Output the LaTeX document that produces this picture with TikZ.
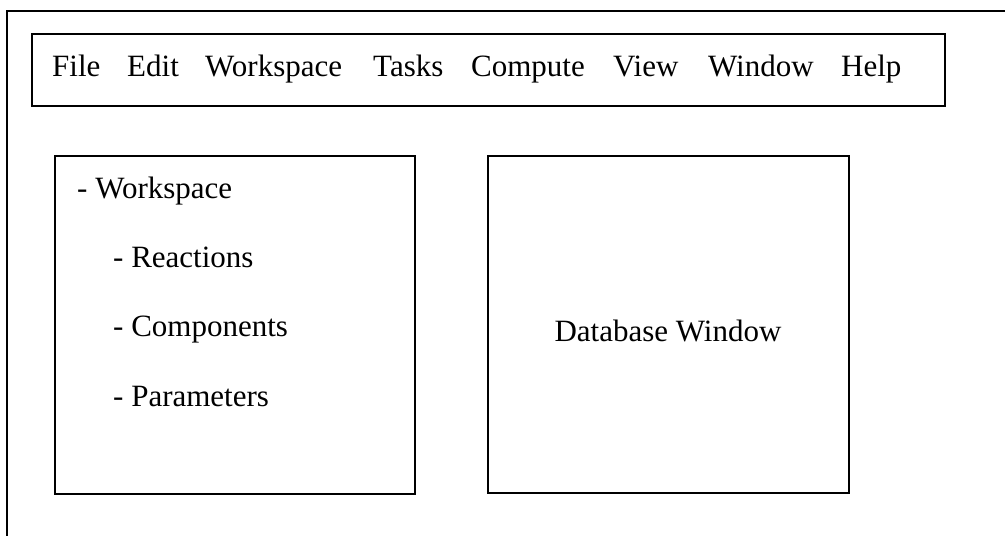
\documentclass[tikz,border=0pt]{standalone}
\usepackage{fontspec}
\setmainfont{Liberation Serif}
\begin{document}
\begin{tikzpicture}[x=1pt,y=-1pt,
  frame/.style={line width=2.2pt},
  lbl/.style={anchor=base west,inner sep=0pt,font=\fontsize{31}{36}\selectfont},
  clbl/.style={anchor=base,inner sep=0pt,font=\fontsize{31}{36}\selectfont}]
\useasboundingbox (0,0) rectangle (1005,536);
% outer window frame (cropped at right and bottom)
\draw[frame] (7,536) -- (7,11) -- (1005,11);
% menu bar
\draw[frame] (32,34) rectangle (945,106);
\node[lbl] (mfile) at (52,76) {File};
\node[lbl] (medit) at (127,76) {Edit};
\node[lbl] (mws) at (205,76) {Workspace};
\node[lbl] (mtasks) at (373,76) {Tasks};
\node[lbl] (mcomp) at (471,76) {Compute};
\node[lbl] (mview) at (613,76) {View};
\node[lbl] (mwin) at (708,76) {Window};
\node[lbl] (mhelp) at (841,76) {Help};
% workspace tree panel
\draw[frame] (55,156) rectangle (415,494);
\node[lbl] (tws) at (77,198) {- Workspace};
\node[lbl] (treac) at (113,267) {- Reactions};
\node[lbl] (tcomp) at (113,336) {- Components};
\node[lbl] (tpar) at (113,406) {- Parameters};
% database panel
\draw[frame] (488,156) rectangle (849,493);
\node[clbl] (db) at (668,341) {Database Window};
\end{tikzpicture}
\end{document}
